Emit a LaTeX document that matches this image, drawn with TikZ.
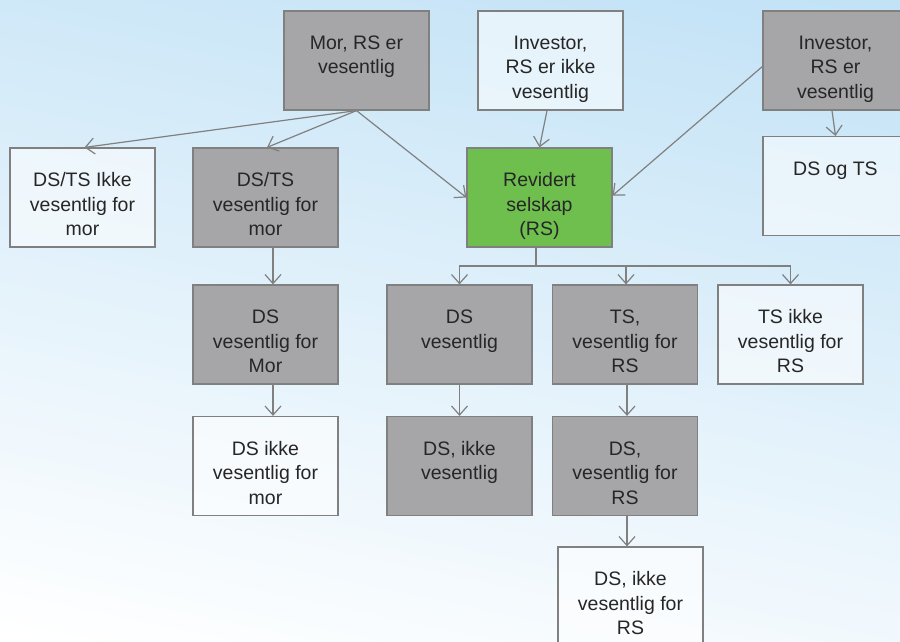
\documentclass[tikz,border=0pt]{standalone}
\usepackage{fontspec}
\setmainfont{Liberation Sans}
\usetikzlibrary{arrows.meta}
\definecolor{bgblue}{HTML}{C2E2F6}
\definecolor{boxgray}{HTML}{A6A6A8}
\definecolor{edgegray}{HTML}{808080}
\definecolor{rsgreen}{HTML}{6FBF4F}
\definecolor{txtcol}{HTML}{262626}
\newcommand{\boxtext}[1]{\parbox[c][99pt][t]{145pt}{\centering\fontsize{19.5}{24.5}\selectfont\vspace*{24pt}\rule{0pt}{14.5pt}#1}}
\tikzset{
  box/.style={draw=edgegray, line width=1.2pt, inner sep=0pt, text=txtcol, anchor=center},
  grayb/.style={box, fill=boxgray},
  whiteb/.style={box, fill=white, fill opacity=0.55, text opacity=1},
  greenb/.style={box, fill=rsgreen},
  conn/.style={draw=edgegray, line width=1.2pt, -{Straight Barb[length=9pt,width=16pt]}}
}
\begin{document}
\begin{tikzpicture}[x=1pt, y=-1pt]
\useasboundingbox (0,0) rectangle (900,642);
\clip (0,0) rectangle (900,642);
\shade[top color=bgblue, bottom color=white, shading angle=-12] (-60,-60) rectangle (960,700);
% top row
\node[grayb]  (mor)    at (356.5,60.5) {\boxtext{Mor, RS er\\vesentlig}};
\node[whiteb] (invno)  at (550.5,60.5) {\boxtext{Investor,\\RS er ikke\\vesentlig}};
\node[grayb]  (invyes) at (835.5,60.5) {\boxtext{Investor,\\RS er\\vesentlig}};
% second row
\node[whiteb] (dstsno)  at (82.5,197.5)  {\boxtext{DS/TS Ikke\\vesentlig for\\mor}};
\node[grayb]  (dstsyes) at (265.5,197.5) {\boxtext{DS/TS\\vesentlig for\\mor}};
\node[greenb] (rs)      at (539.5,197.5) {\boxtext{Revidert\\selskap\\(RS)}};
\node[whiteb] (dsogts)  at (835.5,186)   {\boxtext{DS og TS}};
% third row
\node[grayb]  (dsmor) at (265.5,334.5) {\boxtext{DS\\vesentlig for\\Mor}};
\node[grayb]  (dsv)   at (459.5,334.5) {\boxtext{DS\\vesentlig}};
\node[grayb]  (tsv)   at (625,334.5)   {\boxtext{TS,\\vesentlig for\\RS}};
\node[whiteb] (tsno)  at (790.5,334.5) {\boxtext{TS ikke\\vesentlig for\\RS}};
% fourth row
\node[whiteb] (dsmorno) at (265.5,466) {\boxtext{DS ikke\\vesentlig for\\mor}};
\node[grayb]  (dsikke)  at (459.5,466) {\boxtext{DS, ikke\\vesentlig}};
\node[grayb]  (dsvrs)   at (625,466)   {\boxtext{DS,\\vesentlig for\\RS}};
% fifth row
\node[whiteb] (dsrsno)  at (630.5,596.5) {\boxtext{DS, ikke\\vesentlig for\\RS}};
% connectors
\draw[conn] (mor.south) -- ([xshift=2pt]dstsno.north);
\draw[conn] (mor.south) -- ([xshift=1.5pt]dstsyes.north);
\draw[conn] (mor.south) -- (rs.west);
\draw[conn] ([xshift=-3.5pt]invno.south) -- (rs.north);
\draw[conn] ([yshift=-6pt]invyes.west) -- ([yshift=2pt]rs.east);
\draw[conn] ([xshift=-3.5pt]invyes.south) -- (dsogts.north);
\draw[conn] ([xshift=7.5pt]dstsyes.south) -- ([xshift=7.5pt]dsmor.north);
\draw[conn] ([xshift=7.5pt]dsmor.south) -- ([xshift=7.5pt]dsmorno.north);
\coordinate (bus) at (536,266);
\draw[conn] ([xshift=-3.5pt]rs.south) -- (bus) -| (dsv.north);
\draw[conn] (bus) -| ([xshift=1pt]tsv.north);
\draw[conn] (bus) -| (tsno.north);
\draw[conn] (dsv.south) -- (dsikke.north);
\draw[conn] ([xshift=2pt]tsv.south) -- ([xshift=2pt]dsvrs.north);
\draw[conn] ([xshift=2pt]dsvrs.south) -- ([xshift=2pt]dsvrs.south |- dsrsno.north);
\end{tikzpicture}
\end{document}
